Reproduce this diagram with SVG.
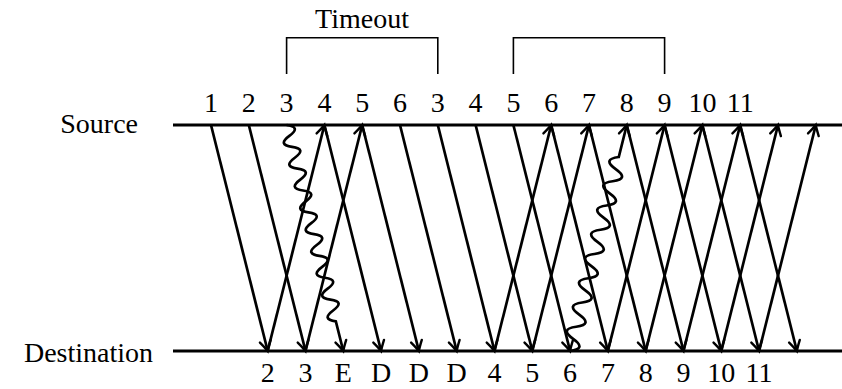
<svg xmlns="http://www.w3.org/2000/svg" width="842" height="389" viewBox="0 0 842 389">
<style>
.lab{text-anchor:middle}
.axis{stroke:#000;stroke-width:3;fill:none}
.br{stroke:#000;stroke-width:1.6;fill:none}
.ar{stroke:#000;stroke-width:2.7;fill:none;marker-end:url(#ah)}
</style>
<defs>
<marker id="ah" markerUnits="userSpaceOnUse" viewBox="0 0 16 16" markerWidth="16" markerHeight="16" refX="12.5" refY="8" orient="auto">
<path d="M2.5,2.5 Q9,6.4 12.5,8 Q9,9.6 2.5,13.5" fill="none" stroke="#000" stroke-width="2.4" stroke-linecap="round"/>
</marker>
</defs>
<rect width="842" height="389" fill="#fff"/>
<g font-family="'Liberation Serif', 'DejaVu Serif', 'Times New Roman', serif" font-size="28" fill="#000">
<g id="source">
<text x="138" y="133" text-anchor="end">Source</text>
<line class="axis" x1="173" y1="125" x2="842" y2="125"/>
</g>
<g id="destination">
<text x="153" y="362" text-anchor="end">Destination</text>
<line class="axis" x1="173" y1="351" x2="842" y2="351"/>
</g>
<g id="timeout">
<text x="362" y="28" text-anchor="middle">Timeout</text>
<path class="br" d="M286.6,74 V37.7 H437.8 V74"/>
<path class="br" d="M513.4,74 V37.7 H664.6 V74"/>
</g>
<g id="top-labels">
<text class="lab" x="211" y="112">1</text>
<text class="lab" x="248.8" y="112">2</text>
<text class="lab" x="286.6" y="112">3</text>
<text class="lab" x="324.4" y="112">4</text>
<text class="lab" x="362.2" y="112">5</text>
<text class="lab" x="400" y="112">6</text>
<text class="lab" x="437.8" y="112">3</text>
<text class="lab" x="475.6" y="112">4</text>
<text class="lab" x="513.4" y="112">5</text>
<text class="lab" x="551.2" y="112">6</text>
<text class="lab" x="589" y="112">7</text>
<text class="lab" x="626.8" y="112">8</text>
<text class="lab" x="664.6" y="112">9</text>
<text class="lab" x="702.4" y="112">10</text>
<text class="lab" x="740.2" y="112">11</text>
</g>
<g id="bottom-labels">
<text class="lab" x="267.7" y="382">2</text>
<text class="lab" x="305.5" y="382">3</text>
<text class="lab" x="343.3" y="382">E</text>
<text class="lab" x="381.1" y="382">D</text>
<text class="lab" x="418.9" y="382">D</text>
<text class="lab" x="456.7" y="382">D</text>
<text class="lab" x="494.5" y="382">4</text>
<text class="lab" x="532.3" y="382">5</text>
<text class="lab" x="570.1" y="382">6</text>
<text class="lab" x="607.9" y="382">7</text>
<text class="lab" x="645.7" y="382">8</text>
<text class="lab" x="683.5" y="382">9</text>
<text class="lab" x="721.3" y="382">10</text>
<text class="lab" x="759.1" y="382">11</text>
</g>
</g>
<g id="connectors">
<line class="ar" x1="211" y1="125" x2="267.7" y2="351"/>
<line class="ar" x1="248.8" y1="125" x2="305.5" y2="351"/>
<line class="ar" x1="324.4" y1="125" x2="381.1" y2="351"/>
<line class="ar" x1="362.2" y1="125" x2="418.9" y2="351"/>
<line class="ar" x1="400" y1="125" x2="456.7" y2="351"/>
<line class="ar" x1="437.8" y1="125" x2="494.5" y2="351"/>
<line class="ar" x1="475.6" y1="125" x2="532.3" y2="351"/>
<line class="ar" x1="513.4" y1="125" x2="570.1" y2="351"/>
<line class="ar" x1="551.2" y1="125" x2="607.9" y2="351"/>
<line class="ar" x1="589" y1="125" x2="645.7" y2="351"/>
<line class="ar" x1="626.8" y1="125" x2="683.5" y2="351"/>
<line class="ar" x1="664.6" y1="125" x2="721.3" y2="351"/>
<line class="ar" x1="702.4" y1="125" x2="759.1" y2="351"/>
<line class="ar" x1="740.2" y1="125" x2="796.9" y2="351"/>
<line class="ar" x1="267.7" y1="351" x2="324.4" y2="125"/>
<line class="ar" x1="305.5" y1="351" x2="362.2" y2="125"/>
<line class="ar" x1="494.5" y1="351" x2="551.2" y2="125"/>
<line class="ar" x1="532.3" y1="351" x2="589" y2="125"/>
<line class="ar" x1="607.9" y1="351" x2="664.6" y2="125"/>
<line class="ar" x1="645.7" y1="351" x2="702.4" y2="125"/>
<line class="ar" x1="683.5" y1="351" x2="740.2" y2="125"/>
<line class="ar" x1="721.3" y1="351" x2="778" y2="125"/>
<line class="ar" x1="759.1" y1="351" x2="815.8" y2="125"/>
<path class="ar" transform="translate(286.6,125) rotate(75.92)" d="M0,0 q5.6,-14 11.25,0 t11.25,0 t11.25,0 t11.25,0 t11.25,0 t11.25,0 t11.25,0 t11.25,0 t11.25,0 t11.25,0 t11.25,0 t11.25,0 t11.25,0 t11.25,0 t11.25,0 t11.25,0 t11.25,0 t11.25,0 L233,0"/>
<path class="ar" transform="translate(570.1,351) rotate(-75.92)" d="M0,0 q6.25,16 12.5,0 t12.5,0 t12.5,0 t12.5,0 t12.5,0 t12.5,0 t12.5,0 t12.5,0 t12.5,0 t12.5,0 t12.5,0 t12.5,0 t12.5,0 t12.5,0 t12.5,0 t12.5,0 L233,0"/>
</g>
</svg>
